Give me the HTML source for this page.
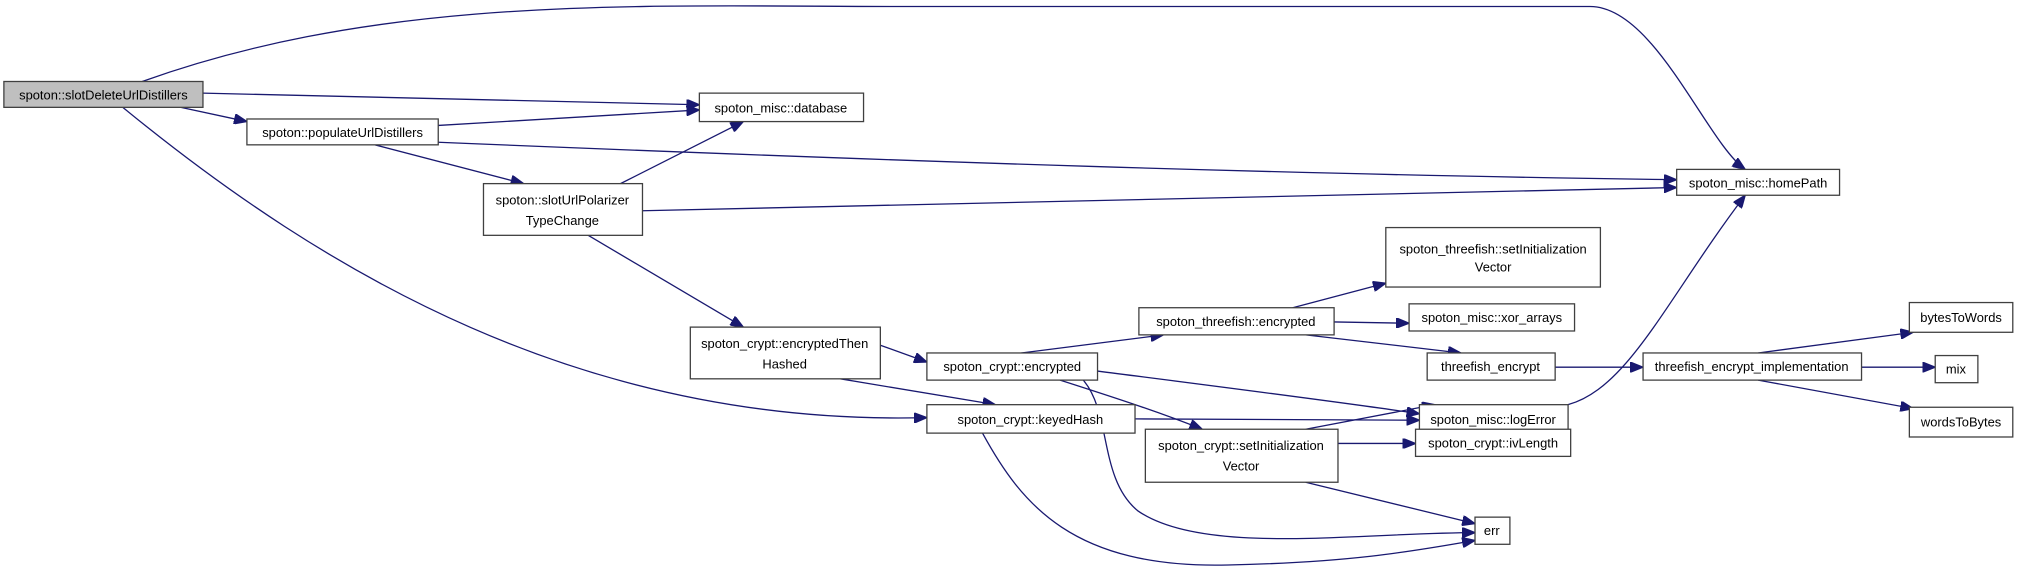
<!DOCTYPE html>
<html><head><meta charset="utf-8"><style>
html,body{margin:0;padding:0;background:#fff;}
svg{display:block;}
text{font-family:"Liberation Sans",sans-serif;font-size:10px;fill:#000;text-anchor:middle;}
rect{fill:#fff;stroke:#404040;stroke-width:1;}
path{fill:none;stroke:#191970;stroke-width:1;}
</style></head><body>
<svg width="2027" height="587" viewBox="0 0 1568 454" xmlns="http://www.w3.org/2000/svg">
<defs><marker id="a" markerUnits="userSpaceOnUse" markerWidth="11" markerHeight="8" refX="10" refY="4" orient="auto"><polygon points="0,0 10,4 0,8" fill="#191970" stroke="#191970"/></marker></defs>
<g marker-end="url(#a)">
<path d="M110,63 C300,-5 500,5 700,5 L1230,5 C1280,5 1320,110 1350,131"/>
<path d="M157,72 L541,81"/>
<path d="M140,83 L191,94"/>
<path d="M95,83 C250,210 450,330 717,323"/>
<path d="M339,97 L541,85"/>
<path d="M339,110 C700,125 1000,135 1297,139"/>
<path d="M290,112 L405,142"/>
<path d="M480,142 L575,94"/>
<path d="M497,163 C800,155 1100,148 1297,145"/>
<path d="M455,182 L575,253"/>
<path d="M681,267 L717,280"/>
<path d="M650,293 L770,313"/>
<path d="M790,273 L900,259"/>
<path d="M849,287 C950,300 1030,310 1098,320"/>
<path d="M820,294 C870,310 900,320 930,332"/>
<path d="M838,294 C860,320 850,370 880,395 C930,430 1050,412 1141,412"/>
<path d="M878,324 L1098,325"/>
<path d="M760,335 C790,390 830,440 950,437 C1050,435 1100,425 1141,418"/>
<path d="M1000,238 L1072,219"/>
<path d="M1032,249 L1090,250"/>
<path d="M1010,259 L1130,273"/>
<path d="M1203,284 L1271,284"/>
<path d="M1360,273 L1480,257"/>
<path d="M1440,284 L1497,284"/>
<path d="M1360,294 L1480,316"/>
<path d="M1213,313 C1260,300 1290,230 1350,151"/>
<path d="M1010,332 L1110,313"/>
<path d="M1035,343 L1095,343"/>
<path d="M1010,373 L1141,405"/>
</g>
<rect x="3" y="63" width="154" height="20" style="fill:#bfbfbf"/><text x="80" y="77">spoton::slotDeleteUrlDistillers</text>
<rect x="541" y="72" width="127" height="22"/><text x="604" y="87">spoton_misc::database</text>
<rect x="191" y="92" width="148" height="20"/><text x="265" y="106">spoton::populateUrlDistillers</text>
<rect x="374" y="142" width="123" height="40"/><text x="435" y="158">spoton::slotUrlPolarizer</text><text x="435" y="174">TypeChange</text>
<rect x="1297" y="131" width="126" height="20"/><text x="1360" y="145">spoton_misc::homePath</text>
<rect x="1072" y="176" width="166" height="46"/><text x="1155" y="196">spoton_threefish::setInitialization</text><text x="1155" y="210">Vector</text>
<rect x="1090" y="235" width="128" height="21"/><text x="1154" y="249">spoton_misc::xor_arrays</text>
<rect x="881" y="238" width="151" height="21"/><text x="956" y="252">spoton_threefish::encrypted</text>
<rect x="1104" y="273" width="99" height="21"/><text x="1153" y="287">threefish_encrypt</text>
<rect x="1271" y="273" width="169" height="21"/><text x="1355" y="287">threefish_encrypt_implementation</text>
<rect x="1477" y="234" width="80" height="23"/><text x="1517" y="249">bytesToWords</text>
<rect x="1497" y="275" width="33" height="21"/><text x="1513" y="289">mix</text>
<rect x="1477" y="315" width="80" height="23"/><text x="1517" y="330">wordsToBytes</text>
<rect x="534" y="253" width="147" height="40"/><text x="607" y="269">spoton_crypt::encryptedThen</text><text x="607" y="285">Hashed</text>
<rect x="717" y="273" width="132" height="21"/><text x="783" y="287">spoton_crypt::encrypted</text>
<rect x="717" y="313" width="161" height="22"/><text x="797" y="328">spoton_crypt::keyedHash</text>
<rect x="1098" y="313" width="115" height="22"/><text x="1155" y="328">spoton_misc::logError</text>
<rect x="886" y="332" width="149" height="41"/><text x="960" y="348">spoton_crypt::setInitialization</text><text x="960" y="364">Vector</text>
<rect x="1095" y="332" width="120" height="21"/><text x="1155" y="346">spoton_crypt::ivLength</text>
<rect x="1141" y="400" width="27" height="21"/><text x="1154" y="414">err</text>
</svg>
</body></html>
